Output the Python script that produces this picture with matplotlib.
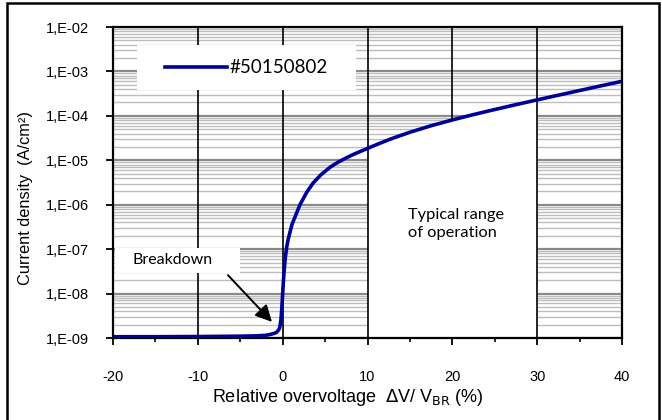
import matplotlib
matplotlib.use("Agg")
import matplotlib.pyplot as plt
from matplotlib.patches import Rectangle
from matplotlib.ticker import MultipleLocator, LogLocator, FuncFormatter, NullFormatter
import numpy as np

plt.rcParams["axes.unicode_minus"] = False

# relative overvoltage (%) and current density (A/cm2)
overvoltage = [-20, -15, -10, -5, -3, -2, -1.5, -1, -0.7, -0.5, -0.35, -0.2, -0.1,
               0, 0.1, 0.2, 0.3, 0.47, 0.66, 0.86, 1.1, 1.45, 2.04, 2.83, 3.6,
               4.5, 5.6, 6.5, 7.55, 8.5, 10, 11.5, 13.1, 15, 17.5, 20, 22.5, 25,
               27.5, 30, 32.5, 35, 37.5, 40]
current_density = [1.07e-9, 1.07e-9, 1.08e-9, 1.1e-9, 1.12e-9, 1.15e-9, 1.2e-9,
                   1.27e-9, 1.35e-9, 1.5e-9, 1.7e-9, 2.6e-9, 4.8e-9, 1.0e-8,
                   2.1e-8, 3.8e-8, 6.2e-8, 1.1e-7, 1.7e-7, 2.4e-7, 3.6e-7, 5.3e-7,
                   1.0e-6, 1.9e-6, 3.1e-6, 4.7e-6, 7.0e-6, 9.0e-6, 1.15e-5, 1.4e-5,
                   1.85e-5, 2.44e-5, 3.2e-5, 4.28e-5, 6.0e-5, 8.1e-5, 1.07e-4, 1.39e-4,
                   1.79e-4, 2.29e-4, 2.92e-4, 3.72e-4, 4.73e-4, 6.0e-4]
series_name = "#50150802"
operating_range = [10, 30]
breakdown_tip = (-1.26, 2.3e-9)
breakdown_tail = (-6.45, 2.6e-8)

label_font = "Liberation Sans"
note_font = "Lato"

fig = plt.figure(figsize=(6.62, 4.2), dpi=100)
ax = fig.add_axes([0.1707, 0.1952, 0.7689, 0.7405])

ax.set_yscale("log")
ax.set_xlim(-20, 40)
ax.set_ylim(1e-9, 1e-2)

ax.xaxis.set_major_locator(MultipleLocator(10))
ax.xaxis.set_minor_locator(MultipleLocator(5))
ax.yaxis.set_major_locator(LogLocator(base=10, numticks=20))
ax.yaxis.set_minor_locator(LogLocator(base=10, subs=np.arange(2, 10), numticks=20))
ax.yaxis.set_minor_formatter(NullFormatter())
ax.yaxis.set_major_formatter(FuncFormatter(lambda v, p: "1,E-%02d" % round(-np.log10(v))))

ax.set_axisbelow(True)
ax.grid(which="minor", axis="y", color="#bdbdbd", lw=1.0)
ax.grid(which="major", axis="y", color="#8a8a8a", lw=1.6)
# vertical grid lines drawn over the horizontal ones
for xv in [-10, 0, 20]:
    ax.axvline(xv, color="black", lw=1.2, zorder=1.2)

ax.tick_params(which="major", direction="out", length=5, width=1.3, labelsize=10.5, pad=12)
ax.tick_params(axis="x", which="major", pad=18)
ax.tick_params(axis="x", which="minor", direction="out", length=3, width=1.2)
ax.tick_params(axis="y", which="minor", length=0)
for lab in ax.get_xticklabels() + ax.get_yticklabels():
    lab.set_fontfamily(label_font)
for sp in ax.spines.values():
    sp.set_linewidth(1.6)

# white area below the curve in the typical operating range
xs = np.array(overvoltage)
ys = np.array(current_density)
m = (xs >= operating_range[0]) & (xs <= operating_range[1])
ax.fill_between(xs[m], ys[m], 1e-9, color="white", lw=0, zorder=1.5)
for xv in operating_range:
    ax.axvline(xv, color="black", lw=1.2, zorder=1.6)

line, = ax.plot(overvoltage, current_density, color="#000099", lw=2.6, zorder=3,
                label=series_name)

# legend with white box
ax.add_patch(Rectangle((0.047, 0.797), 0.430, 0.145, transform=ax.transAxes,
                       facecolor="white", edgecolor="none", zorder=2))
leg = ax.legend(loc="center", bbox_to_anchor=(0.262, 0.869), frameon=False,
                handlelength=3.3, handletextpad=0.15,
                prop={"family": note_font, "size": 13.5})
leg.set_zorder(4)

# breakdown annotation
ax.add_patch(Rectangle((0.004, 0.209), 0.246, 0.080, transform=ax.transAxes,
                       facecolor="white", edgecolor="none", zorder=2))
ax.text(0.117, 0.251, "Breakdown", transform=ax.transAxes, ha="center", va="center",
        family=note_font, fontsize=11.5, zorder=4)
ax.annotate("", xy=breakdown_tip, xytext=breakdown_tail, zorder=4,
            arrowprops=dict(arrowstyle="-|>", color="black", lw=1.4, mutation_scale=25,
                            shrinkA=0, shrinkB=0))

ax.text(0.58, 0.418, "Typical range\nof operation", transform=ax.transAxes,
        ha="left", va="top", family=note_font, fontsize=11.8, linespacing=1.35, zorder=4)

ax.set_xlabel(r"Relative overvoltage  $\Delta$V/ V$_{\mathrm{BR}}$ (%)", family=label_font,
              fontsize=13)
ax.xaxis.set_label_coords(0.461, -0.158)
ax.set_ylabel("Current density  (A/cm²)", family=label_font, fontsize=11.8)
ax.yaxis.set_label_coords(-0.158, 0.45)

# outer frame
fig.patches.append(Rectangle((7 / 662, -0.05), 652 / 662, 1.05 - 2.5 / 420,
                             transform=fig.transFigure, fill=False,
                             edgecolor="black", lw=1.8))

fig.savefig("out.png", dpi=100)
